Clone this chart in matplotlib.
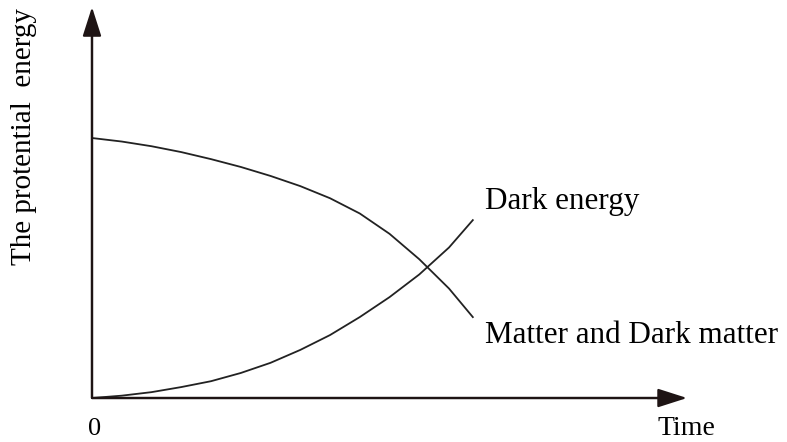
import matplotlib
matplotlib.use("Agg")
import matplotlib.pyplot as plt

plt.rcParams["font.family"] = ["Liberation Serif", "DejaVu Serif"]

# (arbitrary units, axis arrows end at 10)
t_vals = [0, 0.5, 1.0, 1.5, 2.0, 2.5, 3.0, 3.5, 4.0, 4.5, 5.0, 5.5, 6.0, 6.4]
e_matter = [6.65, 6.56, 6.44, 6.29, 6.11, 5.91, 5.68, 5.42, 5.11, 4.72, 4.20, 3.55, 2.80, 2.07]
e_dark = [0, 0.06, 0.15, 0.28, 0.43, 0.64, 0.90, 1.23, 1.61, 2.07, 2.58, 3.16, 3.85, 4.55]

fig = plt.figure(figsize=(7.87, 4.42), dpi=100)
ax = fig.add_axes([0, 0, 1, 1])
ax.set_xlim(-1.546, 11.68)
ax.set_ylim(-1.125, 10.18)
ax.axis("off")

# axes with arrows
arrow = dict(arrowstyle="-|>,head_length=1.0,head_width=0.32", mutation_scale=18,
             shrinkA=0, shrinkB=0, color="#606060", lw=1.6, fc="#1e1414", ec="#1e1414")
ax.annotate("", xy=(10.0, 0), xytext=(0, 0), arrowprops=arrow)
ax.annotate("", xy=(0, 10.0), xytext=(0, 0), arrowprops=arrow)
ax.plot([0, 9.6], [0, 0], color="#606060", lw=1.7, solid_capstyle="butt")
ax.plot([0, 0], [0, 9.4], color="#606060", lw=1.7, solid_capstyle="butt")

ax.plot(t_vals, e_matter, color="#222222", lw=1.3)
ax.plot(t_vals, e_dark, color="#222222", lw=1.3)

ax.text(6.61, 4.83, "Dark energy", fontsize=22.4, ha="left", va="baseline")
ax.text(6.61, 1.41, "Matter and Dark matter", fontsize=22.4, ha="left", va="baseline")
ax.text(0.05, -0.95, "0", fontsize=19, ha="center", va="baseline")
ax.text(9.51, -0.95, "Time", fontsize=20, ha="left", va="baseline")
ax.text(-1.14, 6.68, "The protential  energy", fontsize=21, rotation=90,
        ha="center", va="center")

fig.savefig("out.png", dpi=100)
